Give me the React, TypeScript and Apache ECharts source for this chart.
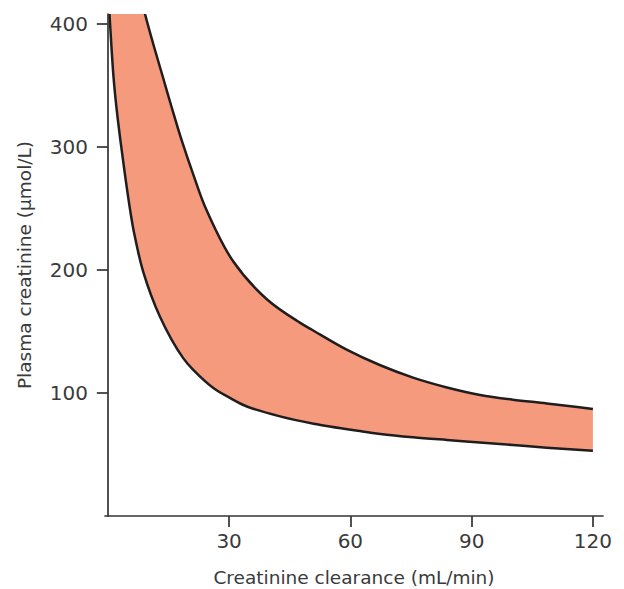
import React, { useEffect, useRef } from "react";
import * as echarts from "echarts";

// Creatinine clearance (mL/min) vs plasma creatinine (µmol/L): the two bounds of the band
const upperBound: [number, number][] = [
  [0.4, 560], [8.0, 425], [9.2, 408], [11.2, 384], [13.6, 357], [15.9, 331],
  [18.4, 304], [21.3, 276], [24.3, 249.5], [31.0, 207], [39.4, 176], [47.6, 157],
  [50.7, 151], [59.2, 135], [67.4, 122.5], [75.5, 112.5], [83.9, 104.5], [92.1, 98.4],
  [100.2, 94.5], [108.6, 91.5], [120, 87],
];
const lowerBound: [number, number][] = [
  [0.4, 408], [1.4, 357], [2.2, 330], [3.2, 303], [4.3, 276], [5.5, 249],
  [6.5, 230], [8.8, 198], [12.9, 162], [18.6, 128.5], [21.2, 118.5], [26.1, 104],
  [30.2, 96], [34.4, 89], [42.6, 81], [50.9, 75], [62.4, 69], [67.4, 66.7],
  [75.5, 64], [83.9, 61.8], [92, 59.8], [100.2, 57.7], [108.6, 55.5], [120, 53],
];
const xTicks = [30, 60, 90, 120];
const yTicks = [100, 200, 300, 400];

const FONT = "DejaVu Sans";
const TEXT = "#3a3a3a";
const AXIS = "#333333";
const FILL = "#F59A7D";
const STROKE = "#1f1d1d";

type P = number[];

// centripetal Catmull-Rom spline -> cubic bezier segments (without the initial move)
function splineSegments(pts: P[]): string {
  let d = "";
  const n = pts.length;
  for (let i = 0; i < n - 1; i++) {
    const p1 = pts[i];
    const p2 = pts[i + 1];
    const p0 = i > 0 ? pts[i - 1] : [2 * p1[0] - p2[0], 2 * p1[1] - p2[1]];
    const p3 = i + 2 < n ? pts[i + 2] : [2 * p2[0] - p1[0], 2 * p2[1] - p1[1]];
    const dist = (a: P, b: P) => Math.max(1e-6, Math.pow(Math.hypot(a[0] - b[0], a[1] - b[1]), 0.5));
    const d1 = dist(p0, p1);
    const d2 = dist(p1, p2);
    const d3 = dist(p2, p3);
    const b1 = [0, 1].map(
      (k) => (d1 * d1 * p2[k] - d2 * d2 * p0[k] + (2 * d1 * d1 + 3 * d1 * d2 + d2 * d2) * p1[k]) / (3 * d1 * (d1 + d2))
    );
    const b2 = [0, 1].map(
      (k) => (d3 * d3 * p1[k] - d2 * d2 * p3[k] + (2 * d3 * d3 + 3 * d3 * d2 + d2 * d2) * p2[k]) / (3 * d3 * (d3 + d2))
    );
    d += ` C ${b1[0]} ${b1[1]} ${b2[0]} ${b2[1]} ${p2[0]} ${p2[1]}`;
  }
  return d;
}

export default function App() {
  const ref = useRef<HTMLDivElement>(null);
  useEffect(() => {
    document.body.style.margin = "0";
    if (!ref.current) return;
    const chart = echarts.init(ref.current, undefined, { renderer: "svg" });
    chart.setOption({
      animation: false,
      backgroundColor: "#ffffff",
      grid: { left: 105, right: 21, top: 14, bottom: 73, containLabel: false, outerBoundsMode: "none" },
      xAxis: {
        type: "value",
        min: -0.7,
        max: 122.5,
        z: 10,
        name: "Creatinine clearance (mL/min)",
        nameLocation: "middle",
        nameGap: 52,
        nameTextStyle: { fontFamily: FONT, fontSize: 18.5, color: TEXT },
        axisLine: { show: true, lineStyle: { color: AXIS, width: 1.7 } },
        axisTick: { show: true, length: 11, customValues: xTicks, lineStyle: { color: AXIS, width: 1.7 } },
        axisLabel: { customValues: xTicks, margin: 15, fontFamily: FONT, fontSize: 20, color: TEXT },
        splitLine: { show: false },
      },
      yAxis: {
        type: "value",
        min: 0,
        max: 408,
        z: 10,
        name: "Plasma creatinine (µmol/L)",
        nameLocation: "middle",
        nameGap: 71,
        nameTextStyle: { fontFamily: FONT, fontSize: 18.5, color: TEXT },
        axisLine: { show: true, lineStyle: { color: AXIS, width: 1.7 } },
        axisTick: { show: true, length: 11, customValues: yTicks, lineStyle: { color: AXIS, width: 1.7 } },
        axisLabel: { customValues: yTicks, margin: 17, fontFamily: FONT, fontSize: 20, color: TEXT },
        splitLine: { show: false },
      },
      series: [
        {
          type: "custom",
          coordinateSystem: "cartesian2d",
          data: [[0, 0]],
          z: 3,
          renderItem: (params: any, api: any) => {
            const up = upperBound.map((p) => api.coord(p));
            const lo = lowerBound.map((p) => api.coord(p));
            const loRev = lo.slice().reverse();
            const upD = `M ${up[0][0]} ${up[0][1]}` + splineSegments(up);
            const loD = `M ${lo[0][0]} ${lo[0][1]}` + splineSegments(lo);
            const fillD =
              upD + ` L ${loRev[0][0]} ${loRev[0][1]}` + splineSegments(loRev) + " Z";
            const cs = params.coordSys;
            return {
              type: "group",
              clipPath: { type: "rect", shape: { x: cs.x, y: cs.y, width: cs.width, height: cs.height } },
              children: [
                { type: "path", shape: { pathData: fillD }, style: { fill: FILL, stroke: null } },
                {
                  type: "path",
                  shape: { pathData: upD },
                  style: { fill: null, stroke: STROKE, lineWidth: 2.5, lineJoin: "round" },
                },
                {
                  type: "path",
                  shape: { pathData: loD },
                  style: { fill: null, stroke: STROKE, lineWidth: 2.5, lineJoin: "round" },
                },
              ],
            };
          },
        },
      ],
    });
    return () => chart.dispose();
  }, []);
  return <div ref={ref} style={{ width: 624, height: 589 }} />;
}
